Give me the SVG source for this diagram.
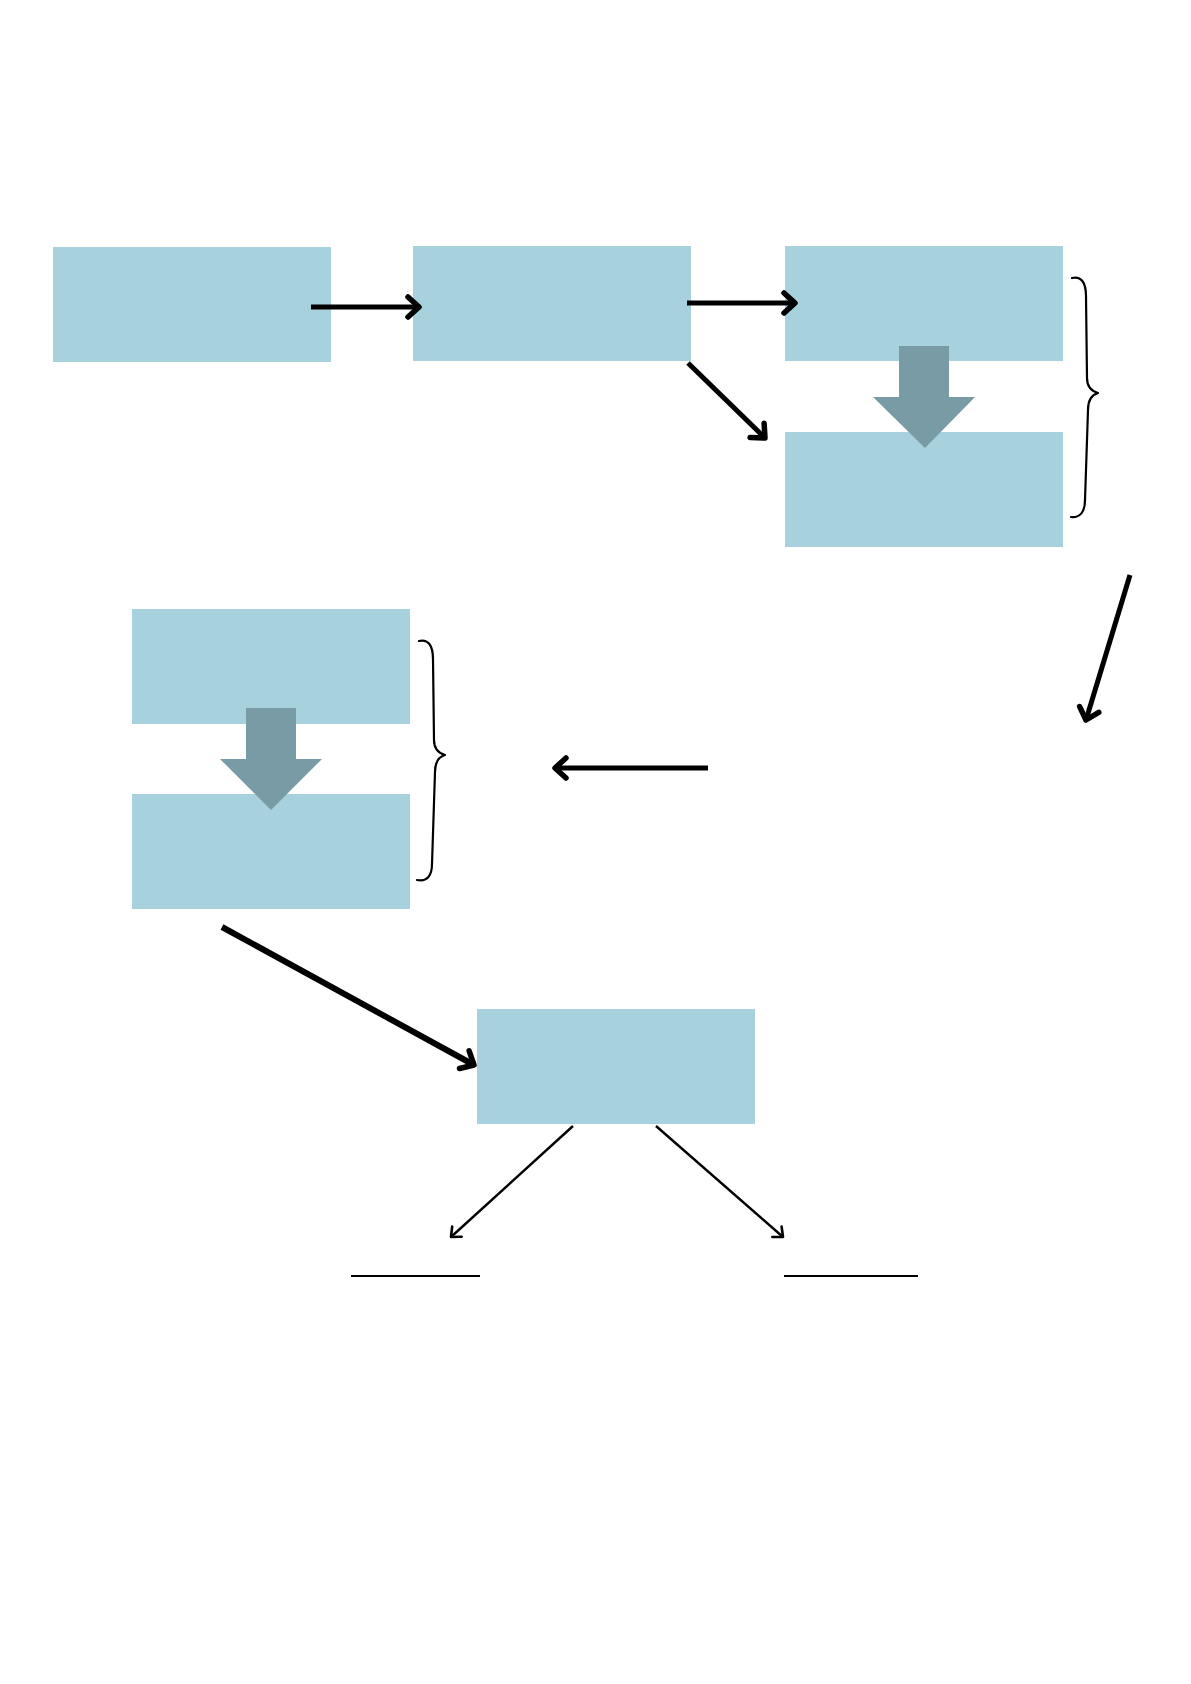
<svg xmlns="http://www.w3.org/2000/svg" width="1191" height="1684" viewBox="0 0 1191 1684">
  <style>
    .box { fill: #a7d1dd; }
    .block { fill: #789ba5; }
    .thick { fill: none; stroke: #000; stroke-width: 5; stroke-linecap: butt; }
    .thin { fill: none; stroke: #000; stroke-width: 2.4; stroke-linecap: butt; }
    .brace { fill: none; stroke: #000; stroke-width: 2.2; stroke-linecap: round; stroke-linejoin: round; }
    .rule { fill: none; stroke: #000; stroke-width: 2.2; }
  </style>
  <defs>
    <marker id="ahThick" markerUnits="userSpaceOnUse" viewBox="-16 -16 32 32" markerWidth="32" markerHeight="32" refX="0" refY="0" orient="auto" overflow="visible">
      <path d="M-11,-10 L0,0 L-11,10" fill="none" stroke="#000" stroke-width="5.5" stroke-linecap="round" stroke-linejoin="round"/>
    </marker>
    <marker id="ahThin" markerUnits="userSpaceOnUse" viewBox="-12 -12 24 24" markerWidth="24" markerHeight="24" refX="0" refY="0" orient="auto" overflow="visible">
      <path d="M-8,-7 L0,0 L-8,7" fill="none" stroke="#000" stroke-width="2.6" stroke-linecap="round" stroke-linejoin="round"/>
    </marker>
  </defs>
  <rect width="1191" height="1684" fill="#ffffff"/>

  <g id="node-1"><rect class="box" x="53" y="247" width="278" height="115"/></g>
  <g id="node-2"><rect class="box" x="413" y="246" width="278" height="115"/></g>
  <g id="node-3"><rect class="box" x="785" y="246" width="278" height="115"/></g>
  <g id="node-4"><rect class="box" x="785" y="432" width="278" height="115"/></g>
  <g id="node-5"><rect class="box" x="132" y="609" width="278" height="115"/></g>
  <g id="node-6"><rect class="box" x="132" y="794" width="278" height="115"/></g>
  <g id="node-7"><rect class="box" x="477" y="1009" width="278" height="115"/></g>
  <g id="blank-left"><line class="rule" x1="351" y1="1276" x2="480" y2="1276"/></g>
  <g id="blank-right"><line class="rule" x1="784" y1="1276" x2="918" y2="1276"/></g>

  <g id="connectors">
    <line class="thick" x1="311" y1="307" x2="419" y2="307" marker-end="url(#ahThick)"/>
    <line class="thick" x1="687" y1="303" x2="795" y2="303" marker-end="url(#ahThick)"/>
    <line class="thick" x1="688" y1="363" x2="765" y2="438" marker-end="url(#ahThick)"/>
    <polygon class="block" points="899,346 949,346 949,397 975,397 925,448 873,397 899,397"/>
    <path class="brace" d="M1072,278 C1081,276 1086,282 1086,296 L1087,378 C1087,387 1091,391 1098,393 C1091,395 1088,400 1088,410 L1085,500 C1085,512 1080,518 1071,517"/>
    <line class="thick" x1="1130" y1="575" x2="1086" y2="720" marker-end="url(#ahThick)"/>
    <line class="thick" x1="708" y1="768" x2="555" y2="768" marker-end="url(#ahThick)"/>
    <polygon class="block" points="246,708 296,708 296,759 322,759 271,810 220,759 246,759"/>
    <path class="brace" d="M419,641 C428,639 433,645 433,659 L434,740 C434,749 438,753 445,755 C438,757 435,762 435,772 L432,864 C432,876 427,882 417,880"/>
    <line class="thick" style="stroke-width:6" x1="222" y1="927" x2="474" y2="1065" marker-end="url(#ahThick)"/>
    <line class="thin" x1="573" y1="1126" x2="451" y2="1237" marker-end="url(#ahThin)"/>
    <line class="thin" x1="656" y1="1126" x2="783" y2="1237" marker-end="url(#ahThin)"/>
  </g>
</svg>
